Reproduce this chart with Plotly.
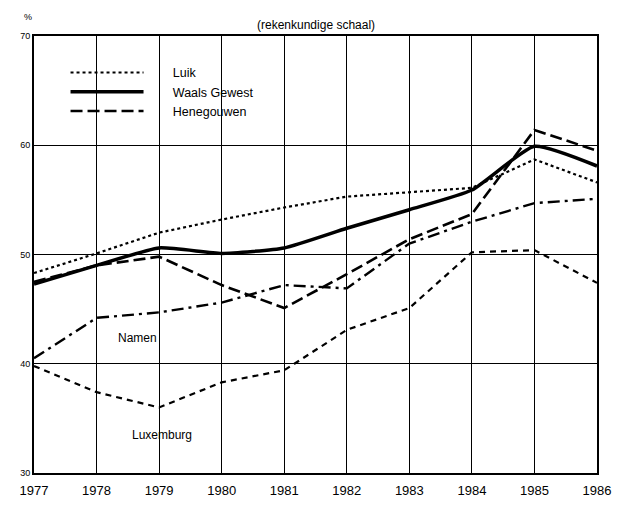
import plotly.graph_objects as go

years = [1977, 1978, 1979, 1980, 1981, 1982, 1983, 1984, 1985, 1986]
luik = [48.3, 50.1, 52.0, 53.2, 54.3, 55.3, 55.7, 56.1, 58.7, 56.6]
waals = [47.3, 49.0, 50.6, 50.1, 50.6, 52.4, 54.1, 55.9, 59.9, 58.1]
henegouwen = [47.5, 49.0, 49.8, 47.2, 45.1, 48.2, 51.4, 53.7, 61.4, 59.5]
namen = [40.5, 44.2, 44.7, 45.6, 47.2, 46.9, 51.0, 53.0, 54.7, 55.1]
luxemburg = [39.8, 37.4, 36.0, 38.3, 39.4, 43.1, 45.1, 50.2, 50.4, 47.4]
y_ticks = [30, 40, 50, 60, 70]

NB = "\u00a0"
fig = go.Figure()
series = [
    ("Luik", luik, dict(color="black", width=2.2, dash="dot"), True, "linear"),
    ("Waals Gewest", waals, dict(color="black", width=3.5, dash="solid"), True, "spline"),
    ("Henegouwen", henegouwen, dict(color="black", width=2.6, dash="12px,5px"), True, "linear"),
    ("Namen", namen, dict(color="black", width=2.4, dash="12px,5px,3px,5px"), False, "linear"),
    ("Luxemburg", luxemburg, dict(color="black", width=2.2, dash="6px,5px"), False, "linear"),
]
for name, vals, line, show, shape in series:
    ln = dict(line)
    ln["shape"] = shape
    if shape == "spline":
        ln["smoothing"] = 0.5
    fig.add_trace(go.Scatter(x=years, y=vals, mode="lines", name=NB * 7 + name,
                             line=ln, showlegend=show))

fig.add_annotation(x=1978.66, y=42.4, text="Namen", showarrow=False,
                   font=dict(size=12, color="black"))
fig.add_annotation(x=1979.05, y=33.5, text="Luxemburg", showarrow=False,
                   font=dict(size=12, color="black"))

fig.add_shape(type="rect", x0=1978.85, x1=1980.9, y0=62.4, y1=65.9,
              fillcolor="white", line=dict(width=0), layer="below")

fig.update_layout(
    width=608, height=490,
    margin=dict(l=26, r=19, t=28, b=25),
    paper_bgcolor="white", plot_bgcolor="white",
    font=dict(family="Liberation Sans, Arial, sans-serif", color="black"),
    showlegend=True,
    legend=dict(x=0.056, y=0.95, xanchor="left", yanchor="top",
                bgcolor="rgba(0,0,0,0)", itemwidth=73,
                font=dict(size=12.5), tracegroupgap=0),
    annotations=list(fig.layout.annotations) + [
        dict(text="(rekenkundige schaal)", x=0.5, y=1.0, xref="paper", yref="paper",
             yshift=20, showarrow=False, font=dict(size=12)),
        dict(text="%", x=0.0, y=1.0, xref="paper", yref="paper", xshift=-12,
             yshift=26, showarrow=False, font=dict(size=9)),
    ],
)
fig.update_xaxes(range=[1977, 1986], tickvals=years, ticktext=[str(y) for y in years],
                 showgrid=True, gridcolor="black", gridwidth=1,
                 showline=True, linecolor="black", linewidth=2, mirror=True,
                 ticks="", ticklen=0, tickfont=dict(size=13), zeroline=False,
                 ticklabelstandoff=4, automargin=False)
fig.update_yaxes(range=[30, 70], tickvals=y_ticks, showgrid=True, gridcolor="black",
                 gridwidth=1, showline=True, linecolor="black", linewidth=2, mirror=True,
                 ticks="", tickfont=dict(size=9), zeroline=False, automargin=False)

fig.write_html("out.html")
